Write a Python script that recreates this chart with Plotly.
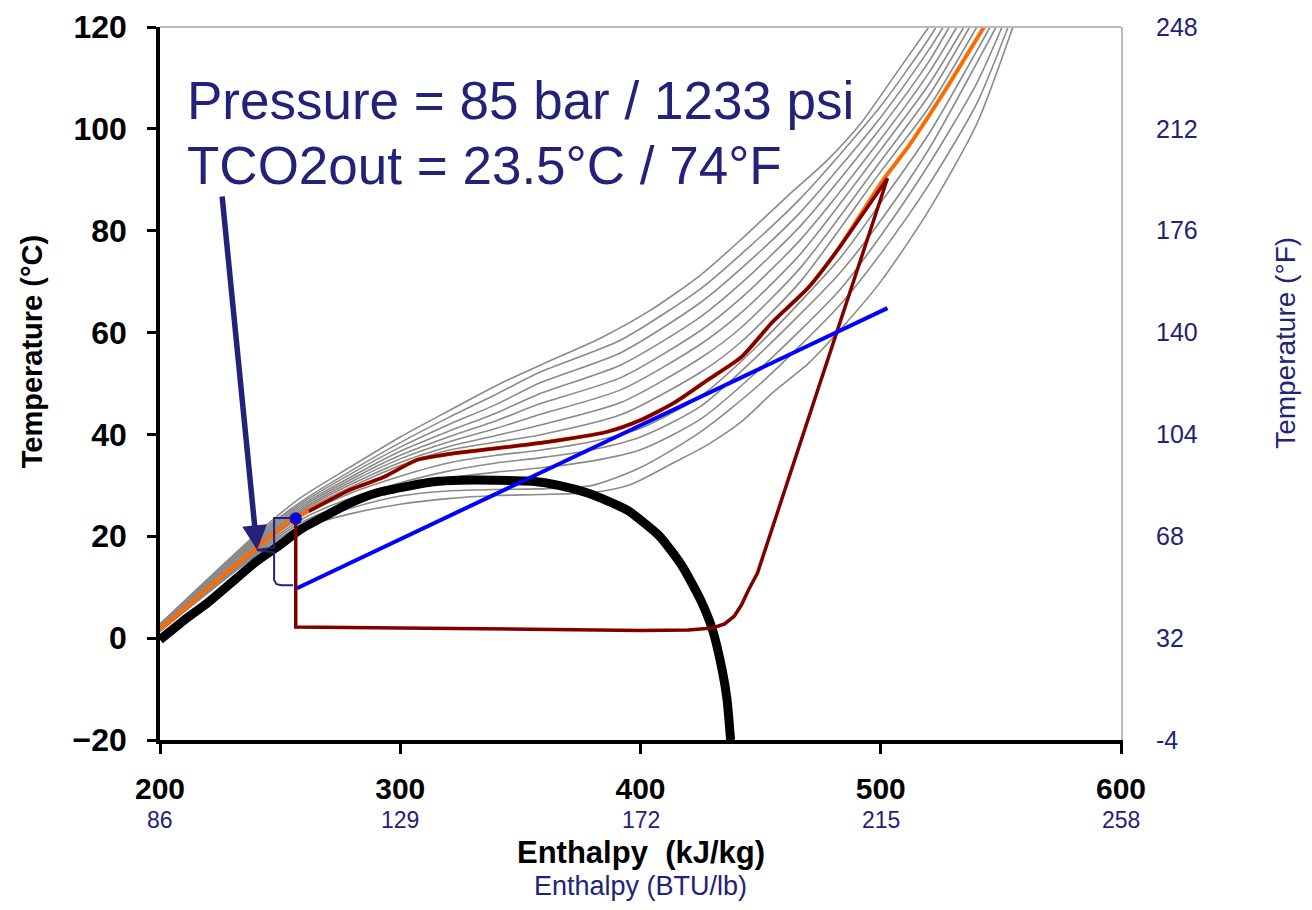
import plotly.graph_objects as go

# ---------------- data ----------------
x_ticks = [200, 300, 400, 500, 600]
x_btu_labels = ["86", "129", "172", "215", "258"]
y_ticks = [-20, 0, 20, 40, 60, 80, 100, 120]
y_f_labels = ["-4", "32", "68", "104", "140", "176", "212", "248"]

# saturation dome
dome_h = [200, 210, 220, 230, 240, 250, 258, 270, 279, 290, 304, 314, 325, 340, 355, 366, 378, 386, 395, 400, 408, 417, 425, 430, 434, 436, 437.5]
dome_T = [-0.3, 3.5, 7, 11, 15, 18.3, 21.2, 24.3, 26.5, 28.5, 29.9, 30.7, 31, 31, 30.8, 30, 28.5, 27, 25, 23.2, 20, 14.4, 7.5, 1.6, -6.3, -12, -20]

# gray isobars (highest pressure first)
iso_h = {
    "G1": [200, 240, 258.3, 279.2, 300, 320.8, 341.7, 362.5, 383.3, 404.2, 425, 441.7, 461.2, 477.9, 491.7, 505.4, 520],
    "G2": [200, 240, 260, 280, 300, 320, 340, 358, 392, 425, 441.7, 466.7, 500, 520, 523],
    "G3": [200, 240, 260, 280, 300, 320, 340, 358, 392, 425, 441.7, 466.7, 500, 520, 526],
    "G4": [200, 240, 260, 280, 300, 320, 340, 358, 392, 425, 441.7, 466.7, 500, 520, 528.5],
    "G5": [200, 240, 260, 280, 300, 320, 340, 358, 392, 425, 441.7, 466.7, 500, 520, 531.7],
    "G6": [200, 240, 260, 280, 300, 320, 340, 358, 392, 425, 441.7, 466.7, 500, 520, 534.6],
    "G7": [200, 240, 260, 280, 300, 320, 340, 358, 392, 425, 441.7, 466.7, 500, 520, 537],
    "G8": [200, 240, 260, 280, 300, 320, 340, 358, 392, 425, 441.7, 466.7, 500, 520, 540],
    "G9": [200, 240, 260, 280, 300, 320, 340, 358, 380, 400, 425, 450, 483, 500, 520, 545.5],
    "G10": [200, 240, 260, 280, 300, 320, 340, 358, 380, 400, 425, 450, 483, 500, 520, 548],
    "G11": [200, 240, 260, 280, 300, 320, 340, 358, 380, 400, 425, 450, 483, 500, 520, 540, 550.5],
    "G12": [200, 240, 260, 280, 300, 320, 340, 358, 380, 400, 425, 450, 483, 500, 520, 540, 553],
    "G13": [200, 240, 260, 280, 300, 320, 340, 358, 380, 395, 414, 428, 442, 455, 470, 483, 500, 520, 540, 555],
}
iso_T = {
    "G1": [2.8, 20.4, 27.5, 33.6, 39.5, 44.8, 50.0, 54.5, 58.9, 64.4, 71.3, 78.2, 86.8, 93.9, 101.1, 110.2, 120],
    "G2": [2.7, 20.1, 27.2, 33.0, 38.4, 43.3, 47.9, 52.2, 58.6, 68.6, 75.3, 86.4, 104.5, 117.7, 120],
    "G3": [2.6, 19.8, 26.8, 32.4, 37.5, 41.9, 45.9, 50.1, 56.1, 65.9, 72.5, 83.7, 102.3, 115.5, 120],
    "G4": [2.5, 19.5, 26.4, 31.8, 36.7, 40.6, 44.2, 48.0, 53.7, 63.1, 69.6, 81.0, 100.2, 113.2, 120],
    "G5": [2.4, 19.2, 26.0, 31.3, 35.9, 39.5, 42.7, 46.0, 51.2, 60.4, 66.7, 78.3, 98.0, 111.0, 120],
    "G6": [2.3, 18.9, 25.6, 30.8, 35.2, 38.5, 41.2, 43.9, 48.8, 57.7, 63.8, 75.5, 95.9, 108.7, 120],
    "G7": [2.2, 18.6, 25.3, 30.3, 34.5, 37.6, 39.8, 41.8, 46.3, 55.0, 60.9, 72.8, 93.7, 106.5, 120],
    "G8": [2.1, 18.3, 25.0, 29.8, 33.9, 36.9, 38.5, 39.9, 43.9, 52.2, 58.1, 70.1, 91.6, 104.2, 120],
    "G9": [1.7, 17.4, 24.2, 28.6, 31.8, 34.4, 35.9, 36.9, 38.6, 41.2, 47.5, 58, 74.6, 85.5, 99, 120],
    "G10": [1.6, 17.1, 23.6, 27.6, 30.5, 32.8, 34.4, 35.4, 37, 39.5, 45.5, 56, 71.7, 82, 96, 120],
    "G11": [1.5, 16.8, 23.0, 26.8, 29.5, 31.4, 32.6, 33.4, 34.8, 37, 43, 53, 68.4, 79, 93, 109, 120],
    "G12": [1.4, 16.5, 22.4, 25.6, 27.9, 28.9, 29.2, 29.3, 30, 33.5, 40.5, 50, 65.4, 75.5, 89, 105, 120],
    "G13": [1.3, 16.2, 21.8, 24.5, 26.3, 27.4, 28, 28.2, 28.6, 30, 34.5, 38, 42.5, 48.2, 54, 60.5, 70, 84, 101, 120],
}

# highlighted 85 bar isobar (orange)
p85_h = [200, 240, 256, 260, 279, 293, 307, 321, 358, 386, 400, 414, 428, 442, 455, 470, 482, 501, 511, 525, 543]
p85_T = [1.8, 17.7, 23.6, 24.6, 29.1, 31.6, 35, 36.2, 38.3, 40.5, 42.8, 46.2, 50.7, 55.2, 62.1, 68.9, 76.2, 90, 96.2, 106.2, 120]

# refrigeration cycle (dark red): gas-cooler part along the 85 bar isobar
gc_h = [502.8, 482, 470, 455, 442, 428, 414, 400, 386, 358, 321, 307, 293, 279, 262]
gc_T = [90.3, 76.2, 68.9, 62.1, 55.2, 50.7, 46.2, 42.8, 40.5, 38.3, 36.2, 35, 31.6, 29.1, 24.9]
# expansion, evaporation, compression
loop_h = [256.5, 256.5, 300, 350, 400, 420, 430, 435, 439, 442, 445, 448.7, 502.8]
loop_T = [23.5, 2.2, 2.0, 1.7, 1.5, 1.6, 2.0, 2.8, 4.3, 6.5, 9.5, 12.8, 90.3]

# water line (blue)
water_h = [257, 502.8]
water_T = [9.8, 64.8]

# bracket
bracket_h = [255.4, 247.5, 247.5, 240.4, 247.5, 247.5, 248.5, 250.5, 255.4]
bracket_T = [23.6, 23.6, 17.8, 17.3, 16.8, 11.4, 10.6, 10.4, 10.4]

# gas-cooler outlet point
out_h = [256.5]
out_T = [23.5]

# arrow
arrow_tail = (225.8, 87.0)
arrow_tip = (240.4, 17.3)

NAVY = "#22227A"
RED = "#800000"
FONT = "Liberation Sans, Arial, sans-serif"

fig = go.Figure()

for k in iso_h:
    fig.add_trace(go.Scatter(x=iso_h[k], y=iso_T[k], mode="lines",
                             line=dict(color="#8A8A8A", width=1.6, shape="spline", smoothing=0.7),
                             hoverinfo="skip", showlegend=False))

fig.add_trace(go.Scatter(x=dome_h, y=dome_T, mode="lines",
                         line=dict(color="black", width=9, shape="spline", smoothing=0.6),
                         showlegend=False))

fig.add_trace(go.Scatter(x=p85_h, y=p85_T, mode="lines",
                         line=dict(color="#FF6A00", width=4, shape="spline", smoothing=0.6),
                         showlegend=False))

fig.add_trace(go.Scatter(x=gc_h, y=gc_T, mode="lines",
                         line=dict(color=RED, width=3.5, shape="spline", smoothing=0.6),
                         showlegend=False))
fig.add_trace(go.Scatter(x=loop_h, y=loop_T, mode="lines",
                         line=dict(color=RED, width=3.5),
                         showlegend=False))

fig.add_trace(go.Scatter(x=water_h, y=water_T, mode="lines",
                         line=dict(color="#0000FF", width=4),
                         showlegend=False))

fig.add_trace(go.Scatter(x=bracket_h, y=bracket_T, mode="lines",
                         line=dict(color=NAVY, width=2),
                         showlegend=False))

fig.add_trace(go.Scatter(x=out_h, y=out_T, mode="markers",
                         marker=dict(color="#0000FF", size=11, line=dict(color="#1A1A90", width=1.5)),
                         showlegend=False))

# invisible trace on the secondary (°F) axis
fig.add_trace(go.Scatter(x=[400], y=[50], yaxis="y2", mode="markers",
                         marker=dict(opacity=0), hoverinfo="skip", showlegend=False))

# page body has an 8 px margin, so the figure is 16 px smaller than the window
fig.update_layout(
    width=1296, height=894, autosize=False,
    margin=dict(l=152, r=183, t=19, b=162),
    paper_bgcolor="white", plot_bgcolor="white",
    font=dict(family=FONT),
    xaxis=dict(range=[200, 600], tickvals=x_ticks, ticktext=[str(v) for v in x_ticks],
               automargin=False,
               showgrid=False, zeroline=False, showline=True, linecolor="black", linewidth=3.5,
               ticks="outside", ticklen=10, tickwidth=3, tickcolor="black",
               ticklabelstandoff=9,
               tickfont=dict(family=FONT, size=30, color="black", weight="bold")),
    yaxis=dict(range=[-20, 120], tickvals=y_ticks, automargin=False,
               showgrid=False, zeroline=False, showline=True, linecolor="black", linewidth=3.5,
               ticks="outside", ticklen=9, tickwidth=3, tickcolor="black",
               ticklabelstandoff=14,
               tickfont=dict(family=FONT, size=32, color="black", weight="bold")),
    yaxis2=dict(range=[-20, 120], overlaying="y", side="right", tickvals=y_ticks,
                automargin=False,
                ticktext=y_f_labels, showgrid=False, zeroline=False, showline=True,
                linecolor="#BBBBBB", linewidth=2, ticks="", ticklabelstandoff=28,
                tickfont=dict(family=FONT, size=25, color=NAVY)),
)

# top border
fig.add_shape(type="line", xref="paper", yref="paper", x0=0, x1=1, y0=1, y1=1,
              line=dict(color="#BBBBBB", width=2))

# secondary x labels (BTU/lb)
for xv, lab in zip(x_ticks, x_btu_labels):
    fig.add_annotation(x=xv, y=(740 - 820) / 713, xref="x", yref="paper", text=lab, showarrow=False,
                       font=dict(family=FONT, size=23, color=NAVY), xanchor="center", yanchor="middle")

fig.add_annotation(x=0.5, y=(740 - 852) / 713, xref="paper", yref="paper", text="<b>Enthalpy  (kJ/kg)</b>",
                   showarrow=False, font=dict(family=FONT, size=31, color="black"),
                   xanchor="center", yanchor="middle")
fig.add_annotation(x=0.5, y=(740 - 886) / 713, xref="paper", yref="paper", text="Enthalpy (BTU/lb)",
                   showarrow=False, font=dict(family=FONT, size=27, color=NAVY),
                   xanchor="center", yanchor="middle")
fig.add_annotation(x=-0.133, y=0.544, xref="paper", yref="paper", text="<b>Temperature (°C)</b>",
                   showarrow=False, textangle=-90, font=dict(family=FONT, size=29, color="black"),
                   xanchor="center", yanchor="middle")
fig.add_annotation(x=(1286 - 160) / 961, y=0.557, xref="paper", yref="paper", text="Temperature (°F)",
                   showarrow=False, textangle=-90, font=dict(family=FONT, size=28, color=NAVY),
                   xanchor="center", yanchor="middle")

fig.add_annotation(x=(185 - 160) / 961, y=(740 - 100) / 713, xref="paper", yref="paper",
                   text="Pressure = 85 bar / 1233 psi", showarrow=False,
                   font=dict(family=FONT, size=53, color=NAVY), xanchor="left", yanchor="middle")
fig.add_annotation(x=(185 - 160) / 961, y=(740 - 165) / 713, xref="paper", yref="paper",
                   text="TCO2out = 23.5°C / 74°F", showarrow=False,
                   font=dict(family=FONT, size=53, color=NAVY), xanchor="left", yanchor="middle")

fig.add_annotation(x=arrow_tip[0], y=arrow_tip[1], ax=arrow_tail[0], ay=arrow_tail[1],
                   xref="x", yref="y", axref="x", ayref="y", text="", showarrow=True,
                   arrowhead=2, arrowsize=0.9, arrowwidth=5.5, arrowcolor=NAVY)

fig.write_html("out.html")
